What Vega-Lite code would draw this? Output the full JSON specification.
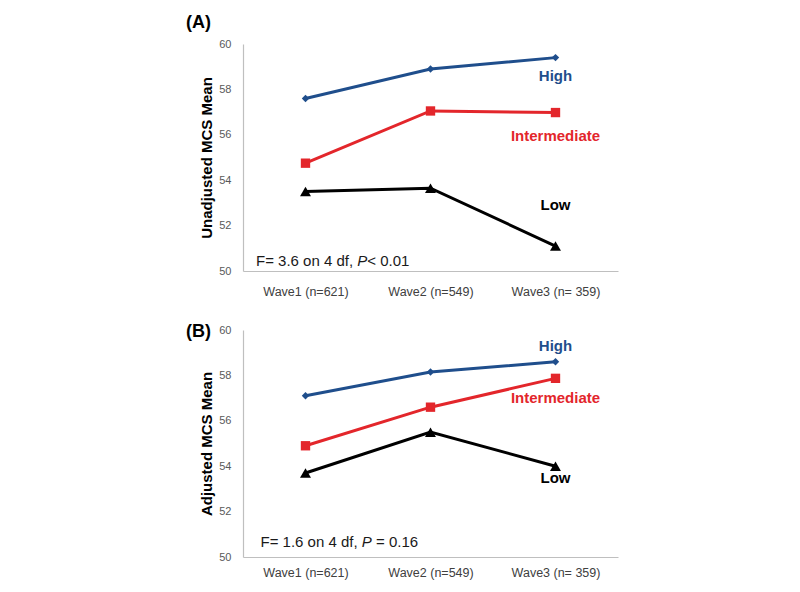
{
  "$schema": "https://vega.github.io/schema/vega-lite/v6.json",
  "padding": {"left": 186, "top": 14, "right": 5, "bottom": 5},
  "background": "white",
  "spacing": 25,
  "config": {
    "font": "Liberation Sans",
    "view": {"stroke": null},
    "axis": {"grid": false, "ticks": false, "domainColor": "#BFBFBF", "domainWidth": 1.2, "labelFont": "Liberation Sans", "titleFont": "Liberation Sans"},
    "title": {"font": "Liberation Sans", "fontSize": 18, "fontWeight": "bold", "color": "#000000", "anchor": "start", "frame": "group"}
  },
  "datasets": {
    "points": [
      {"panel": "A", "wave": "Wave1 (n=621)", "group": "High", "mcs": 57.6},
      {"panel": "A", "wave": "Wave2 (n=549)", "group": "High", "mcs": 58.9},
      {"panel": "A", "wave": "Wave3 (n= 359)", "group": "High", "mcs": 59.4},
      {"panel": "A", "wave": "Wave1 (n=621)", "group": "Intermediate", "mcs": 54.75},
      {"panel": "A", "wave": "Wave2 (n=549)", "group": "Intermediate", "mcs": 57.05},
      {"panel": "A", "wave": "Wave3 (n= 359)", "group": "Intermediate", "mcs": 56.98},
      {"panel": "A", "wave": "Wave1 (n=621)", "group": "Low", "mcs": 53.5},
      {"panel": "A", "wave": "Wave2 (n=549)", "group": "Low", "mcs": 53.65},
      {"panel": "A", "wave": "Wave3 (n= 359)", "group": "Low", "mcs": 51.1},
      {"panel": "B", "wave": "Wave1 (n=621)", "group": "High", "mcs": 57.1},
      {"panel": "B", "wave": "Wave2 (n=549)", "group": "High", "mcs": 58.15},
      {"panel": "B", "wave": "Wave3 (n= 359)", "group": "High", "mcs": 58.6},
      {"panel": "B", "wave": "Wave1 (n=621)", "group": "Intermediate", "mcs": 54.9},
      {"panel": "B", "wave": "Wave2 (n=549)", "group": "Intermediate", "mcs": 56.6},
      {"panel": "B", "wave": "Wave3 (n= 359)", "group": "Intermediate", "mcs": 57.87},
      {"panel": "B", "wave": "Wave1 (n=621)", "group": "Low", "mcs": 53.7},
      {"panel": "B", "wave": "Wave2 (n=549)", "group": "Low", "mcs": 55.5},
      {"panel": "B", "wave": "Wave3 (n= 359)", "group": "Low", "mcs": 54.0}
    ],
    "labels": [
      {"panel": "A", "wave": "Wave3 (n= 359)", "group": "High", "mcs": 58.6},
      {"panel": "A", "wave": "Wave3 (n= 359)", "group": "Intermediate", "mcs": 55.95},
      {"panel": "A", "wave": "Wave3 (n= 359)", "group": "Low", "mcs": 52.9},
      {"panel": "B", "wave": "Wave3 (n= 359)", "group": "High", "mcs": 59.3},
      {"panel": "B", "wave": "Wave3 (n= 359)", "group": "Intermediate", "mcs": 57.0},
      {"panel": "B", "wave": "Wave3 (n= 359)", "group": "Low", "mcs": 53.5}
    ],
    "notes": [
      {"panel": "A", "wave": "Wave1 (n=621)", "mcs": 50.44, "t1": "F= 3.6 on 4 df, ", "t2": "P", "t3": "< 0.01"},
      {"panel": "B", "wave": "Wave1 (n=621)", "mcs": 50.64, "t1": "F= 1.6 on 4 df, ", "t2": "P", "t3": "= 0.16"}
    ]
  },
  "vconcat": [
    {
      "width": 375,
      "height": 227,
      "title": {"text": "(A)", "dx": -57, "offset": 6},
      "encoding": {
        "x": {"field": "wave", "type": "nominal", "sort": null,
              "scale": {"type": "point", "padding": 0.5, "domain": ["Wave1 (n=621)", "Wave2 (n=549)", "Wave3 (n= 359)"]},
              "axis": {"title": null, "labelAngle": 0, "labelFontSize": 12.5, "labelColor": "#404040", "labelPadding": 14}},
        "y": {"field": "mcs", "type": "quantitative",
              "scale": {"domain": [50, 60], "nice": false, "zero": false},
              "axis": {"title": "Unadjusted MCS Mean", "values": [50, 52, 54, 56, 58, 60], "titleFontSize": 15, "titleFontWeight": "bold", "titleColor": "#000000", "labelFontSize": 11, "labelColor": "#595959", "labelPadding": 12, "titlePadding": 4}},
        "color": {"field": "group", "type": "nominal", "legend": null,
                  "scale": {"domain": ["High", "Intermediate", "Low"], "range": ["#1F4E8C", "#E3262B", "#000000"]}}
      },
      "layer": [
        {"data": {"name": "points"}, "transform": [{"filter": "datum.panel === 'A'"}],
         "mark": {"type": "line", "strokeWidth": 3}},
        {"data": {"name": "points"}, "transform": [{"filter": "datum.panel === 'A'"}],
         "mark": {"type": "point", "filled": true, "opacity": 1},
         "encoding": {
           "shape": {"field": "group", "type": "nominal", "legend": null, "scale": {"domain": ["High", "Intermediate", "Low"], "range": ["diamond", "square", "triangle-up"]}},
           "size": {"field": "group", "type": "ordinal", "legend": null, "scale": {"domain": ["High", "Intermediate", "Low"], "range": [55, 120, 100]}}
         }},
        {"data": {"name": "labels"}, "transform": [{"filter": "datum.panel === 'A'"}],
         "mark": {"type": "text", "fontSize": 15, "fontWeight": "bold", "align": "center", "baseline": "middle"},
         "encoding": {"text": {"field": "group"}}},
        {"data": {"name": "notes"}, "transform": [{"filter": "datum.panel === 'A'"}],
         "mark": {"type": "text", "fontSize": 15, "align": "left", "baseline": "middle", "dx": -49.5},
         "encoding": {"text": {"field": "t1"}, "color": {"value": "#1A1A1A"}}},
        {"data": {"name": "notes"}, "transform": [{"filter": "datum.panel === 'A'"}],
         "mark": {"type": "text", "fontSize": 15, "fontStyle": "italic", "align": "left", "baseline": "middle", "dx": 51.8},
         "encoding": {"text": {"field": "t2"}, "color": {"value": "#1A1A1A"}}},
        {"data": {"name": "notes"}, "transform": [{"filter": "datum.panel === 'A'"}],
         "mark": {"type": "text", "fontSize": 15, "align": "left", "baseline": "middle", "dx": 61.8},
         "encoding": {"text": {"field": "t3"}, "color": {"value": "#1A1A1A"}}}
      ]
    },
    {
      "width": 375,
      "height": 227,
      "title": {"text": "(B)", "dx": -57, "offset": -17},
      "encoding": {
        "x": {"field": "wave", "type": "nominal", "sort": null,
              "scale": {"type": "point", "padding": 0.5, "domain": ["Wave1 (n=621)", "Wave2 (n=549)", "Wave3 (n= 359)"]},
              "axis": {"title": null, "labelAngle": 0, "labelFontSize": 12.5, "labelColor": "#404040", "labelPadding": 9}},
        "y": {"field": "mcs", "type": "quantitative",
              "scale": {"domain": [50, 60], "nice": false, "zero": false},
              "axis": {"title": "Adjusted MCS Mean", "values": [50, 52, 54, 56, 58, 60], "titleFontSize": 15, "titleFontWeight": "bold", "titleColor": "#000000", "labelFontSize": 11, "labelColor": "#595959", "labelPadding": 12, "titlePadding": 4}},
        "color": {"field": "group", "type": "nominal", "legend": null,
                  "scale": {"domain": ["High", "Intermediate", "Low"], "range": ["#1F4E8C", "#E3262B", "#000000"]}}
      },
      "layer": [
        {"data": {"name": "points"}, "transform": [{"filter": "datum.panel === 'B'"}],
         "mark": {"type": "line", "strokeWidth": 3}},
        {"data": {"name": "points"}, "transform": [{"filter": "datum.panel === 'B'"}],
         "mark": {"type": "point", "filled": true, "opacity": 1},
         "encoding": {
           "shape": {"field": "group", "type": "nominal", "legend": null, "scale": {"domain": ["High", "Intermediate", "Low"], "range": ["diamond", "square", "triangle-up"]}},
           "size": {"field": "group", "type": "ordinal", "legend": null, "scale": {"domain": ["High", "Intermediate", "Low"], "range": [55, 120, 100]}}
         }},
        {"data": {"name": "labels"}, "transform": [{"filter": "datum.panel === 'B'"}],
         "mark": {"type": "text", "fontSize": 15, "fontWeight": "bold", "align": "center", "baseline": "middle"},
         "encoding": {"text": {"field": "group"}}},
        {"data": {"name": "notes"}, "transform": [{"filter": "datum.panel === 'B'"}],
         "mark": {"type": "text", "fontSize": 15, "align": "left", "baseline": "middle", "dx": -45},
         "encoding": {"text": {"field": "t1"}, "color": {"value": "#1A1A1A"}}},
        {"data": {"name": "notes"}, "transform": [{"filter": "datum.panel === 'B'"}],
         "mark": {"type": "text", "fontSize": 15, "fontStyle": "italic", "align": "left", "baseline": "middle", "dx": 56.3},
         "encoding": {"text": {"field": "t2"}, "color": {"value": "#1A1A1A"}}},
        {"data": {"name": "notes"}, "transform": [{"filter": "datum.panel === 'B'"}],
         "mark": {"type": "text", "fontSize": 15, "align": "left", "baseline": "middle", "dx": 70.5},
         "encoding": {"text": {"field": "t3"}, "color": {"value": "#1A1A1A"}}}
      ]
    }
  ]
}
